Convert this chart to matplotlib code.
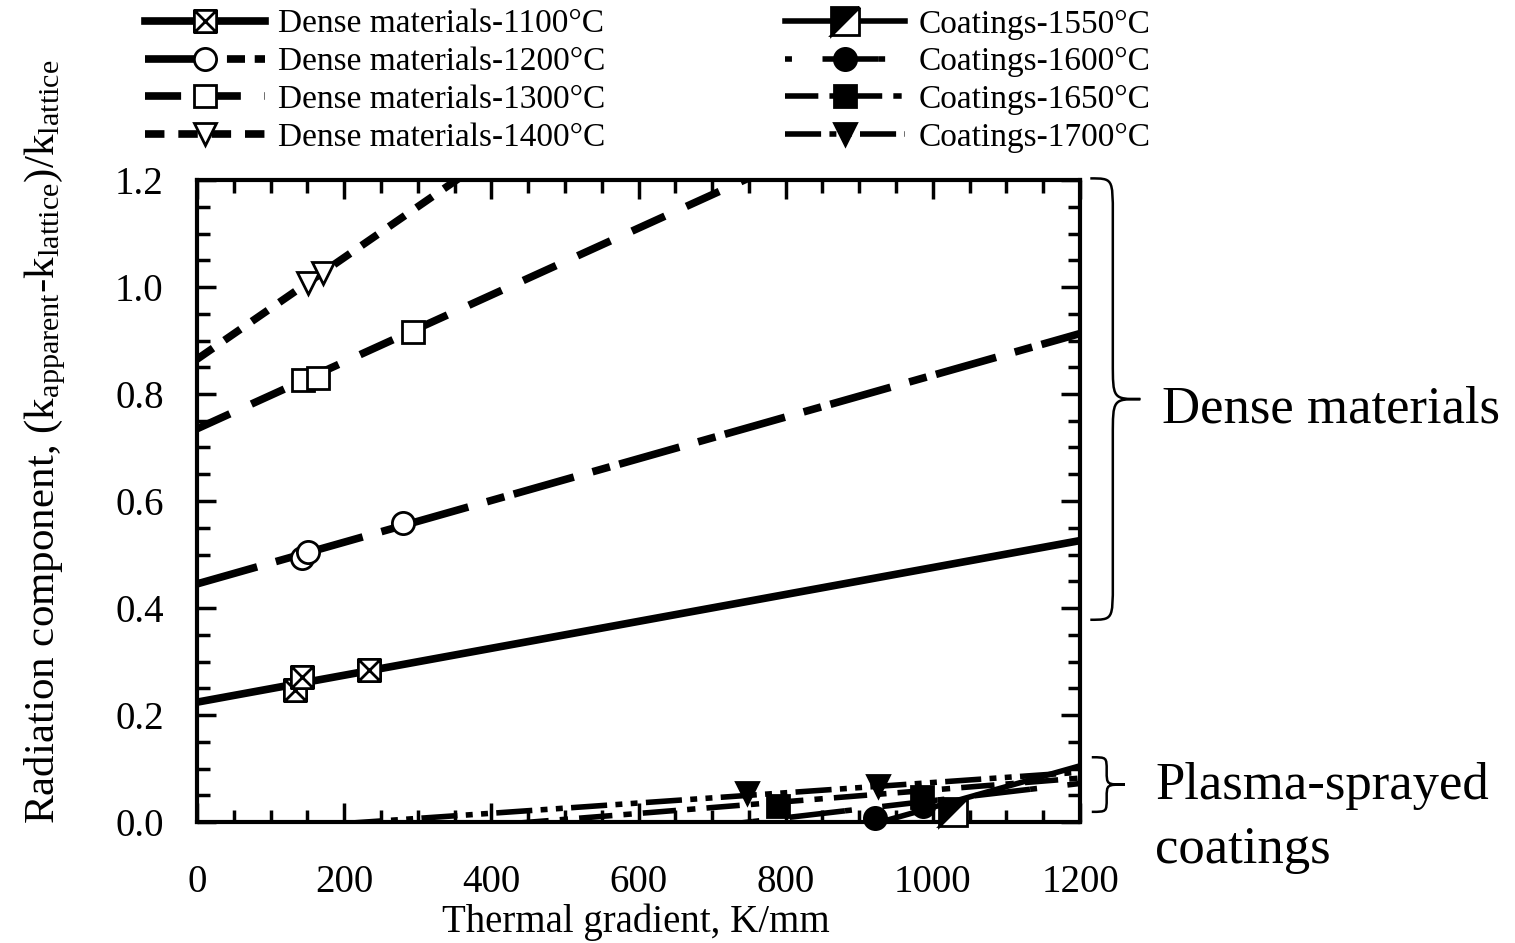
import numpy as np
import matplotlib
matplotlib.use("Agg")
import matplotlib.pyplot as plt
from matplotlib.path import Path
from matplotlib.patches import PathPatch
from matplotlib.markers import MarkerStyle
from matplotlib.transforms import Affine2D

plt.rcParams["font.family"] = ["Liberation Serif", "DejaVu Serif"]
plt.rcParams["mathtext.fontset"] = "custom"
plt.rcParams["mathtext.rm"] = "Liberation Serif"
plt.rcParams["mathtext.it"] = "Liberation Serif:italic"
plt.rcParams["lines.scale_dashes"] = False

# fitted lines, evaluated at the two ends of the x range
fit_x = [0, 1200]
fit_1100 = [0.224, 0.526]
fit_1200 = [0.445, 0.913]
fit_1300 = [0.735, 1.485]
fit_1400 = [0.865, 2.005]
fit_1550 = [-0.36, 0.105]
fit_1600 = [-0.12, 0.072]
fit_1650 = [-0.050, 0.082]
fit_1700 = [-0.022, 0.093]

# measured points
x_1100 = [133, 143, 234]
y_1100 = [0.247, 0.271, 0.284]
x_1200 = [143, 151, 280]
y_1200 = [0.493, 0.505, 0.559]
x_1300 = [144, 164, 294]
y_1300 = [0.826, 0.830, 0.916]
x_1400 = [151, 171]
y_1400 = [1.007, 1.026]
x_1550 = [1027]
y_1550 = [0.019]
x_1600 = [921, 987]
y_1600 = [0.008, 0.030]
x_1650 = [789, 985]
y_1650 = [0.030, 0.047]
x_1700 = [747, 925]
y_1700 = [0.055, 0.068]

labels = ["Dense materials-1100°C", "Dense materials-1200°C",
          "Dense materials-1300°C", "Dense materials-1400°C",
          "Coatings-1550°C", "Coatings-1600°C",
          "Coatings-1650°C", "Coatings-1700°C"]

# boxed-x marker
bx = Path([(-1, -1), (1, -1), (1, 1), (-1, 1), (-1, -1),
           (-1, -1), (1, 1), (-1, 1), (1, -1)],
          [Path.MOVETO, Path.LINETO, Path.LINETO, Path.LINETO, Path.CLOSEPOLY,
           Path.MOVETO, Path.LINETO, Path.MOVETO, Path.LINETO])
half_sq = MarkerStyle("D", fillstyle="top", transform=Affine2D().rotate_deg(45))

fig = plt.figure(figsize=(15.15, 9.43), dpi=100)
ax = fig.add_axes([197 / 1515, 1 - 822 / 943, 883 / 1515, 642 / 943])

lw = 5.5
ms = 16
k = "black"
specs = [
    (fit_1100, x_1100, y_1100, dict(ls="-", marker=bx, mfc="white", ms=ms)),
    (fit_1200, x_1200, y_1200, dict(ls=(0, (45, 14, 13, 7)), marker="o", mfc="white", ms=ms)),
    (fit_1300, x_1300, y_1300, dict(ls=(0, (26, 17)), marker="s", mfc="white", ms=ms)),
    (fit_1400, x_1400, y_1400, dict(ls=(0, (14, 10)), marker="v", mfc="white", ms=ms)),
    (fit_1550, x_1550, y_1550, dict(ls="-", marker=half_sq, mfc=k, mfcalt="white", ms=ms * 1.3, lw=4)),
    (fit_1600, x_1600, y_1600, dict(ls=(0, (5, 22, 40, 0.1)), marker="o", mfc=k, ms=ms, lw=4)),
    (fit_1650, x_1650, y_1650, dict(ls=(0, (24, 8, 6, 8)), marker="s", mfc=k, ms=ms, lw=4)),
    (fit_1700, x_1700, y_1700, dict(ls=(0, (26, 6, 5, 6, 5, 6)), marker="v", mfc=k, ms=ms, lw=4)),
]

handles = []
for fit, xs, ys, st in specs:
    st = dict(st)
    lwi = st.pop("lw", lw)
    ax.plot(fit_x, fit, color=k, lw=lwi, ls=st["ls"], solid_capstyle="butt",
            dash_capstyle="butt")
    mfcalt = st.pop("mfcalt", None)
    extra = {} if mfcalt is None else {"markerfacecoloralt": mfcalt}
    ax.plot(xs, ys, ls="none", marker=st["marker"], mfc=st["mfc"], mec=k,
            mew=2, ms=st["ms"], clip_on=False, zorder=5, **extra)
    (h,) = ax.plot([], [], color=k, lw=lwi, ls=st["ls"], marker=st["marker"],
                   mfc=st["mfc"], mec=k, mew=2, ms=st["ms"], **extra)
    handles.append(h)

ax.set_xlim(0, 1200)
ax.set_ylim(0, 1.2)
ax.set_xticks(np.arange(0, 1201, 200))
ax.set_xticks(np.arange(0, 1201, 50), minor=True)
ax.set_yticks(np.arange(0, 1.21, 0.2))
ax.set_yticks(np.arange(0, 1.21, 0.05), minor=True)
ax.yaxis.set_major_formatter(matplotlib.ticker.FormatStrFormatter("%.1f"))
ax.tick_params(which="both", direction="in", top=True, right=True, width=2.5,
               labelsize=28, color=k)
ax.tick_params(which="major", length=14, pad=24)
ax.tick_params(axis="x", which="major", pad=30)
ax.tick_params(which="minor", length=9)
for s in ax.spines.values():
    s.set_linewidth(3)

fig.text(636 / 1515, 1 - 922 / 943, "Thermal gradient, K/mm", fontsize=28,
         ha="center", va="center")
fig.text(45 / 1515, 1 - 442 / 943,
         r"Radiation component, (k$_{\rm apparent}$-k$_{\rm lattice}$)/k$_{\rm lattice}$",
         fontsize=31, ha="center", va="center", rotation=90)

leg_kw = dict(frameon=False, fontsize=24, handlelength=3.6, handletextpad=0.4,
              labelspacing=0.22, borderpad=0, borderaxespad=0, numpoints=1,
              loc="upper left")
fig.legend(handles[:4], labels[:4], bbox_to_anchor=(145 / 1515, 1 - 9 / 943), **leg_kw)
fig.legend(handles[4:], labels[4:], bbox_to_anchor=(785 / 1515, 1 - 9 / 943), **leg_kw)


def brace(x0, x1, y0, y1, r):
    xm = x0 + 0.45 * (x1 - x0)
    ym = 0.5 * (y0 + y1)
    verts = [(x0, y1), (xm, y1), (xm, y1), (xm, y1 - r),
             (xm, ym + r),
             (xm, ym), (xm, ym), (x1, ym),
             (xm, ym), (xm, ym), (xm, ym - r),
             (xm, y0 + r),
             (xm, y0), (xm, y0), (x0, y0)]
    codes = [Path.MOVETO, Path.CURVE4, Path.CURVE4, Path.CURVE4,
             Path.LINETO,
             Path.CURVE4, Path.CURVE4, Path.CURVE4,
             Path.CURVE4, Path.CURVE4, Path.CURVE4,
             Path.LINETO,
             Path.CURVE4, Path.CURVE4, Path.CURVE4]
    ax.add_patch(PathPatch(Path(verts, codes), fill=False, lw=1.8, ec=k,
                           clip_on=False))


brace(1214, 1282, 0.378, 1.203, 0.07)
brace(1216, 1261, 0.019, 0.121, 0.025)

fig.text(1162 / 1515, 1 - 410 / 943, "Dense materials", fontsize=38,
         ha="left", va="center")
fig.text(1155 / 1515, 1 - 786 / 943, "Plasma-sprayed", fontsize=38,
         ha="left", va="center")
fig.text(1155 / 1515, 1 - 850 / 943, "coatings", fontsize=38,
         ha="left", va="center")

fig.savefig("out.png", dpi=100)
